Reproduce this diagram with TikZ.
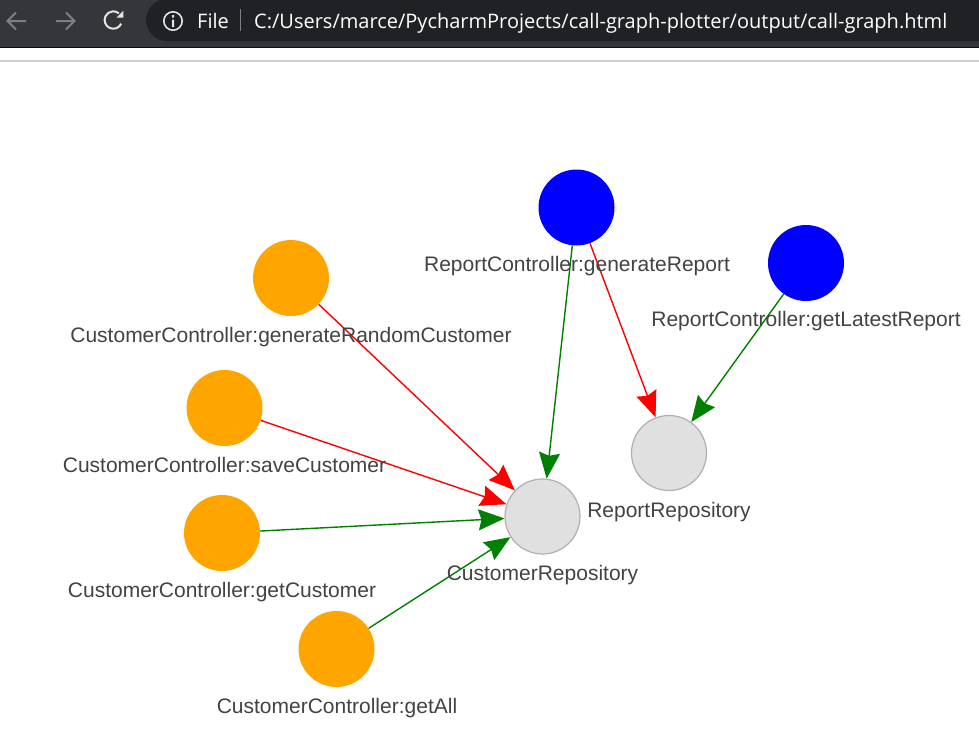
\documentclass[tikz,border=0pt]{standalone}
\usepackage{fontspec}
\setmainfont{Liberation Sans}
\newfontfamily\barfont{Open Sans}
\usetikzlibrary{arrows.meta}
\definecolor{barink}{RGB}{53,54,58}
\definecolor{pillink}{RGB}{32,33,36}
\definecolor{labelink}{RGB}{67,67,67}
\definecolor{repofill}{RGB}{224,224,224}
\definecolor{repoline}{RGB}{176,176,176}
\definecolor{okgreen}{RGB}{0,128,0}
\definecolor{navgray}{RGB}{125,127,130}
\definecolor{ctrlorange}{RGB}{255,165,0}
\tikzset{
  ctrl/.style={circle,minimum size=76pt,inner sep=0pt,fill=ctrlorange},
  rep/.style={circle,minimum size=76pt,inner sep=0pt,fill=blue},
  repo/.style={circle,minimum size=75pt,inner sep=0pt,fill=repofill,draw=repoline,line width=1.2pt},
  lab/.style={font=\fontsize{21}{25}\selectfont,text=labelink,inner sep=0pt,anchor=base},
  call/.style={line width=1.4pt,-{Stealth[length=26pt,width=21pt,inset=3pt]}},
  bartext/.style={font=\barfont\fontsize{20}{24}\selectfont,text=white,inner sep=0pt,anchor=base west},
  navline/.style={line width=2pt,line cap=butt}
}
\begin{document}
\begin{tikzpicture}[x=1pt,y=-1pt]
\useasboundingbox (0,0) rectangle (979,732);
\fill[white] (0,0) rectangle (979,732);
% browser bar
\fill[barink] (0,0) rectangle (979,47);
\fill[black!75!barink] (0,47) rectangle (979,48);
\fill[pillink] (979,-1) -- (167,-1) arc[start angle=270,end angle=90,radius=21] -- (979,41) -- cycle;
\fill[black!18] (0,60) rectangle (979,62);
\draw[navline,navgray] (26,21) -- (8,21) (16,12.5) -- (7.5,21) -- (16,29.5);
\draw[navline,navgray] (56,21) -- (74,21) (66,12.5) -- (74.5,21) -- (66,29.5);
\draw[navline,white!90!black] (121.2,23.7) arc[start angle=25,end angle=310,radius=8.7];
\fill[white!90!black] (123.3,10.7) -- (123.3,17.6) -- (116.4,17.6) -- cycle;
\draw[line width=1.6pt,white!90!black] (173,21) circle[radius=9.2];
\fill[white!90!black] (172,19.5) rectangle (174.2,27) (172,15) rectangle (174.2,17.5);
\fill[navgray] (239.5,9) rectangle (240.8,31);
\node[bartext] (filetxt) at (197,28) {File};
\node[bartext] (urltxt) at (254,28) {C:/Users/marce/PycharmProjects/call-graph-plotter/output/call-graph.html};
% graph nodes
\node[ctrl] (genrandom) at (291,278) {};
\node[ctrl] (savecust) at (224.5,408) {};
\node[ctrl] (getcust) at (222,533) {};
\node[ctrl] (getall) at (336.5,649) {};
\node[rep] (genreport) at (576.5,207.5) {};
\node[rep] (latest) at (806,263) {};
\node[repo] (custrepo) at (542.5,516.5) {};
\node[repo] (reportrepo) at (669,453) {};
% calls
\draw[call,red] (genrandom) -- (custrepo);
\draw[call,red] (savecust) -- (custrepo);
\draw[call,okgreen] (getcust) -- (custrepo);
\draw[call,okgreen] (getall) -- (custrepo);
\draw[call,okgreen] (genreport) -- (custrepo);
\draw[call,red] (genreport) -- (reportrepo);
\draw[call,okgreen] (latest) -- (reportrepo);
% labels go last, they sit on the edges
\foreach \nm/\x/\y/\txt in {
  lgenrandom/291/342/CustomerController:generateRandomCustomer,
  lsavecust/224.5/472/CustomerController:saveCustomer,
  lgetcust/222/597/CustomerController:getCustomer,
  lgetall/337/713/CustomerController:getAll,
  lgenreport/577/271/ReportController:generateReport,
  llatest/806/326/ReportController:getLatestReport,
  lcustrepo/542.5/580/CustomerRepository,
  lreportrepo/669/517/ReportRepository} {
  \node[lab] (\nm) at (\x,\y) {\txt};
}
\end{tikzpicture}
\end{document}
